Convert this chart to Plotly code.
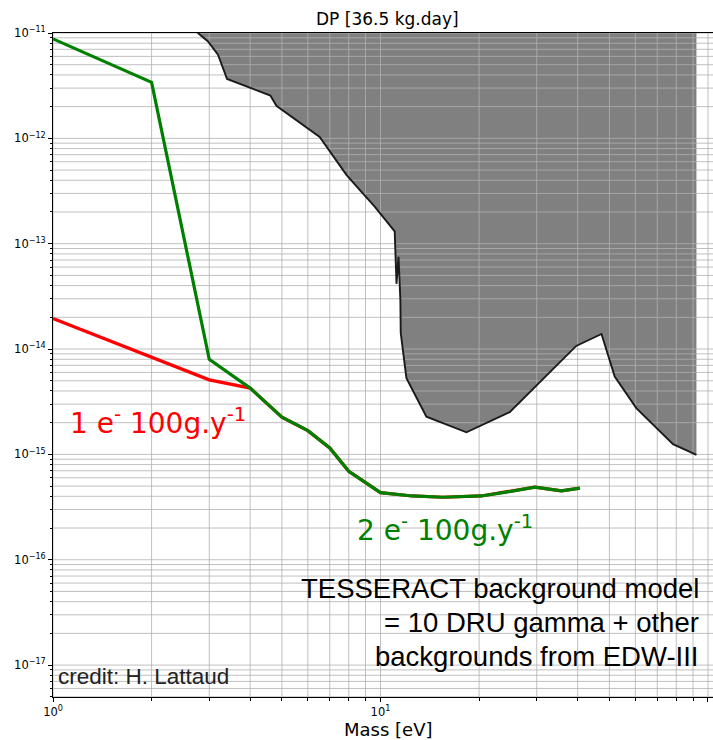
import math
import plotly.graph_objects as go

# ---------------- data ----------------
mass_green = [1, 2, 3, 4, 5, 6, 7, 8, 10, 12.5, 15.5, 20.3, 24.2, 29.6, 35.7, 40.6]
rate_green = [8.8e-12, 3.4e-12, 8.0e-15, 4.26e-15, 2.25e-15, 1.68e-15, 1.15e-15, 6.9e-16,
              4.34e-16, 4.03e-16, 3.92e-16, 4.03e-16, 4.38e-16, 4.89e-16, 4.5e-16, 4.78e-16]

mass_red = [1, 3, 4, 5, 6, 7, 8, 10, 12.5, 15.5, 20.3, 24.2, 29.6, 35.7, 40.6]
rate_red = [1.95e-14, 5.1e-15, 4.26e-15, 2.25e-15, 1.68e-15, 1.15e-15, 6.9e-16,
            4.34e-16, 4.03e-16, 3.92e-16, 4.03e-16, 4.38e-16, 4.89e-16, 4.5e-16, 4.78e-16]

limit_mass = [2.54, 2.77, 2.974, 3.19, 3.40, 4.61, 4.81, 6.52, 7.87, 8.64, 9.60, 11.05,
              11.19, 11.35, 11.45, 11.5, 11.53, 12.0, 13.81, 18.3, 24.8, 39.6, 47.3, 51.9,
              60.4, 78.2, 92.2]
limit_rate = [1.25e-11, 1.0e-11, 8.32e-12, 6.22e-12, 3.66e-12, 2.55e-12, 2.04e-12, 1.03e-12,
              4.5e-13, 3.25e-13, 2.25e-13, 1.31e-13, 4.16e-14, 7.51e-14, 4.16e-14, 2.93e-14,
              1.42e-14, 5.3e-15, 2.28e-15, 1.62e-15, 2.52e-15, 1.07e-14, 1.39e-14, 5.48e-15,
              2.75e-15, 1.25e-15, 9.9e-16]

x_decades = [0, 1, 2]
y_decades = [-17, -16, -15, -14, -13, -12, -11]
x_range = [0, 2.0153]
y_range = [-17.303, -11]

title_text = "DP [36.5 kg.day]"
xlabel_text = "Mass [eV]"
label_1e = "1 e<sup>-</sup> 100g.y<sup>-1</sup>"
label_2e = "2 e<sup>-</sup> 100g.y<sup>-1</sup>"
model_lines = ["TESSERACT background model", "= 10 DRU gamma + other",
               "backgrounds from EDW-III"]
credit_text = "credit: H. Lattaud"

# ---------------- figure ----------------
W, H = 713, 740
ML, MR, MT, MB = 53, 0, 33, 43
PW, PH = W - ML - MR, H - MT - MB

fig = go.Figure()

# excluded region (filled polygon up to far above the top)
top = 10 ** (y_range[1] + 2)
fig.add_trace(go.Scatter(
    x=limit_mass + [limit_mass[-1], limit_mass[0]],
    y=limit_rate + [top, top],
    mode="lines", fill="toself", fillcolor="#808080",
    line=dict(width=0), hoverinfo="skip", showlegend=False))

# grid lines (drawn above the fill, below the curves, like matplotlib)
def minor_vals(lo, hi):
    vals = []
    for n in range(math.floor(lo) - 1, math.ceil(hi) + 1):
        for k in range(1, 10):
            v = k * 10 ** n
            if lo - 1e-9 <= math.log10(v) <= hi + 1e-9:
                vals.append(v)
    return vals

gx, gy = [], []
for v in minor_vals(*x_range):
    gx += [v, v, None]
    gy += [10 ** (y_range[0] - 1), 10 ** (y_range[1] + 1), None]
for v in minor_vals(*y_range):
    gx += [10 ** (x_range[0] - 1), 10 ** (x_range[1] + 1), None]
    gy += [v, v, None]
fig.add_trace(go.Scatter(x=gx, y=gy, mode="lines",
                         line=dict(color="#b0b0b0", width=0.8),
                         hoverinfo="skip", showlegend=False, connectgaps=False))

fig.add_trace(go.Scatter(x=limit_mass[1:], y=limit_rate[1:], mode="lines",
                         line=dict(color="#1a1a1a", width=1.9), showlegend=False))
fig.add_trace(go.Scatter(x=[limit_mass[0], limit_mass[1]], y=[limit_rate[0], limit_rate[1]],
                         mode="lines", line=dict(color="#1a1a1a", width=1.9), showlegend=False))
fig.add_trace(go.Scatter(x=mass_red, y=rate_red, mode="lines",
                         line=dict(color="red", width=3.2), showlegend=False))
fig.add_trace(go.Scatter(x=mass_green, y=rate_green, mode="lines",
                         line=dict(color="green", width=3.2), showlegend=False))

tick_font = dict(family="DejaVu Sans", size=11.5, color="black")

x_minor = [v for v in minor_vals(*x_range) if abs(math.log10(v) - round(math.log10(v))) > 1e-9]
y_minor = [v for v in minor_vals(*y_range) if abs(math.log10(v) - round(math.log10(v))) > 1e-9]

fig.update_xaxes(
    type="log", range=x_range, showgrid=False, zeroline=False,
    showline=True, linecolor="black", linewidth=1, mirror=True,
    ticks="outside", ticklen=4, tickwidth=0.8, tickcolor="black",
    tickvals=[10 ** d for d in x_decades],
    ticktext=["10<sup>%d</sup>" % d for d in x_decades],
    tickfont=tick_font,
    minor=dict(tickvals=x_minor, ticks="outside", ticklen=2.5, tickwidth=0.6,
               tickcolor="black", showgrid=False),
)
fig.update_yaxes(
    type="log", range=y_range, showgrid=False, zeroline=False,
    showline=True, linecolor="black", linewidth=1, mirror=True,
    ticks="outside", ticklen=4, tickwidth=0.8, tickcolor="black",
    tickvals=[10 ** d for d in y_decades],
    ticktext=["10<sup>\u2212%d</sup>" % abs(d) for d in y_decades],
    tickfont=tick_font,
    minor=dict(tickvals=y_minor, ticks="outside", ticklen=2.5, tickwidth=0.6,
               tickcolor="black", showgrid=False),
)

def px_x(px):
    return (px - ML) / PW

def px_y(py):
    return (H - MB - py) / PH

ann = []
# title
ann.append(dict(text=title_text, x=px_x(387.5), y=px_y(26 + 0.236 * 17 + 1),
                xanchor="center", yanchor="bottom",
                font=dict(family="DejaVu Sans", size=17, color="black")))
# x label
ann.append(dict(text=xlabel_text, x=px_x(388), y=px_y(737 + 0.236 * 18 + 1),
                xanchor="center", yanchor="bottom",
                font=dict(family="DejaVu Sans", size=18, color="black")))
# series labels
ann.append(dict(text=label_1e, x=px_x(68), y=px_y(434 + 0.236 * 28 + 1),
                xanchor="left", yanchor="bottom",
                font=dict(family="DejaVu Sans", size=28, color="red")))
ann.append(dict(text=label_2e, x=px_x(355.2), y=px_y(541.7 + 0.236 * 28 + 1),
                xanchor="left", yanchor="bottom",
                font=dict(family="DejaVu Sans", size=28, color="green")))
# model text
for line, base in zip(model_lines, [599.3, 633.0, 667.5]):
    ann.append(dict(text=line, x=px_x(700.5), y=px_y(base + 0.212 * 27.5 + 1),
                    xanchor="right", yanchor="bottom",
                    font=dict(family="Liberation Sans, Arial, sans-serif", size=27.5, color="black")))
ann.append(dict(text=credit_text, x=px_x(56.3), y=px_y(685 + 0.212 * 22.5 + 1),
                xanchor="left", yanchor="bottom",
                font=dict(family="Liberation Sans, Arial, sans-serif", size=22.5, color="#222222")))

for a in ann:
    a.update(xref="paper", yref="paper", showarrow=False)

fig.update_layout(
    width=W, height=H,
    margin=dict(l=ML, r=MR, t=MT, b=MB, pad=0),
    paper_bgcolor="white", plot_bgcolor="white",
    annotations=ann, showlegend=False,
)

fig.write_html("out.html")
